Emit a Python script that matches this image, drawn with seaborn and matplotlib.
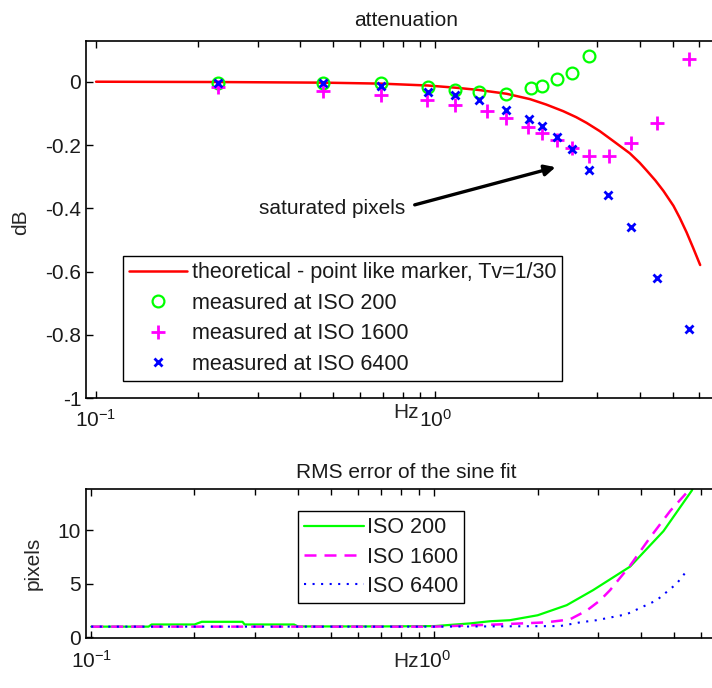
import matplotlib
matplotlib.use("Agg")
import matplotlib.pyplot as plt
import seaborn as sns
from matplotlib.ticker import FormatStrFormatter, LogLocator, NullFormatter

# theoretical attenuation, point like marker, Tv=1/30
theory_hz = [0.1, 0.23, 0.47, 0.69, 0.95, 1.15, 1.34, 1.62, 1.90, 2.12, 2.38, 2.60,
             2.79, 3.05, 3.35, 3.74, 4.00, 4.19, 4.45, 4.70, 5.03, 5.25, 5.50, 5.75,
             6.03]
theory_db = [0.0, -0.001, -0.003, -0.006, -0.012, -0.019, -0.026, -0.038, -0.055,
             -0.072, -0.093, -0.112, -0.130, -0.156, -0.188, -0.226, -0.256, -0.280,
             -0.312, -0.345, -0.392, -0.430, -0.476, -0.525, -0.579]

# measured attenuation
iso200_hz = [0.228, 0.466, 0.693, 0.949, 1.146, 1.342, 1.62, 1.91, 2.06, 2.28, 2.53, 2.84]
iso200_db = [-0.003, -0.003, -0.005, -0.016, -0.026, -0.033, -0.039, -0.021, -0.013,
             0.008, 0.029, 0.081]
iso1600_hz = [0.228, 0.466, 0.693, 0.947, 1.146, 1.42, 1.62, 1.88, 2.06, 2.28, 2.53,
              2.84, 3.24, 3.76, 4.51, 5.60]
iso1600_db = [-0.016, -0.028, -0.041, -0.058, -0.074, -0.092, -0.114, -0.142, -0.161,
              -0.184, -0.210, -0.234, -0.234, -0.195, -0.131, 0.072]
iso6400_hz = [0.228, 0.466, 0.693, 0.949, 1.146, 1.342, 1.62, 1.89, 2.06, 2.28, 2.52,
              2.83, 3.23, 3.76, 4.50, 5.59]
iso6400_db = [-0.005, -0.005, -0.012, -0.032, -0.042, -0.058, -0.089, -0.118, -0.139,
              -0.174, -0.213, -0.279, -0.358, -0.460, -0.621, -0.781]

# RMS error of the sine fit
rms200_hz = [0.1, 0.147, 0.15, 0.2, 0.21, 0.276, 0.28, 0.39, 0.40, 0.7, 1.0, 1.27,
             1.45, 1.66, 2.0, 2.43, 2.9, 3.72, 4.65, 5.63, 5.7]
rms200 = [1.0, 1.0, 1.2, 1.2, 1.45, 1.45, 1.2, 1.2, 1.02, 1.02, 1.05, 1.3, 1.5, 1.6,
          2.06, 3.0, 4.4, 6.6, 9.9, 13.7, 14.2]
rms1600_hz = [0.1, 1.0, 1.52, 2.12, 2.48, 2.78, 3.04, 3.25, 3.72, 4.25, 4.87, 5.44, 5.6]
rms1600 = [1.0, 1.0, 1.2, 1.4, 1.67, 2.5, 3.45, 4.4, 6.7, 9.3, 11.8, 13.5, 14.2]
rms6400_hz = [0.1, 1.0, 2.32, 2.66, 2.97, 3.63, 4.44, 5.08, 5.5]
rms6400 = [1.0, 1.0, 1.05, 1.4, 1.6, 2.15, 3.45, 5.0, 6.4]

sns.set_style("ticks", {"xtick.direction": "in", "ytick.direction": "in"})
plt.rcParams["font.family"] = ["Liberation Sans", "DejaVu Sans"]
plt.rcParams["mathtext.fontset"] = "custom"
plt.rcParams["mathtext.rm"] = "Liberation Sans"
plt.rcParams["mathtext.it"] = "Liberation Sans:italic"
plt.rcParams["axes.unicode_minus"] = False
plt.rcParams["font.size"] = 15
plt.rcParams["text.color"] = "#1a1a1a"

fig = plt.figure(figsize=(7.12, 6.88), dpi=100)
ax1 = fig.add_axes([0.1208, 0.4211, 0.899, 0.5193])
ax2 = fig.add_axes([0.1208, 0.0722, 0.899, 0.2166])

# top: attenuation
sns.lineplot(x=theory_hz, y=theory_db, ax=ax1, color="red", lw=1.8,
             label="theoretical - point like marker, Tv=1/30")
sns.lineplot(x=iso200_hz, y=iso200_db, ax=ax1, color="#00ff00", linestyle="",
             marker="o", mfc="none", mec="#00ff00", mew=1.6, ms=8.5,
             label="measured at ISO 200")
sns.lineplot(x=iso1600_hz, y=iso1600_db, ax=ax1, color="magenta", linestyle="",
             marker="+", mec="magenta", mew=2.0, ms=10,
             label="measured at ISO 1600")
sns.lineplot(x=iso6400_hz, y=iso6400_db, ax=ax1, color="blue", linestyle="",
             marker="x", mec="blue", mew=2.0, ms=5.5,
             label="measured at ISO 6400")

ax1.set_xscale("log")
ax1.set_xlim(0.0934, 7.19)
ax1.set_ylim(-1, 0.1286)
ax1.set_yticks([-1, -0.8, -0.6, -0.4, -0.2, 0])
ax1.yaxis.set_major_formatter(FormatStrFormatter("%g"))
ax1.set_title("attenuation", fontsize=15, pad=11)
ax1.set_xlabel("Hz", fontsize=15)
ax1.set_ylabel("dB", fontsize=15)
ax1.xaxis.set_label_coords(0.5, -0.012)
ax1.yaxis.set_label_coords(-0.0875, 0.494)

ax1.text(0.813, -0.399, "saturated pixels", ha="right", va="center", fontsize=15)
ax1.annotate("", xy=(2.26, -0.270), xytext=(0.869, -0.389),
             arrowprops=dict(arrowstyle="-|>", color="black", lw=2.4,
                             mutation_scale=16, shrinkA=0, shrinkB=0))

leg1 = ax1.legend(loc="lower left", bbox_to_anchor=(0.0583, 0.0493),
                  borderaxespad=0, fontsize=15.5, handlelength=2.7,
                  handletextpad=0.2, labelspacing=0.44, borderpad=0.28,
                  fancybox=False, framealpha=1, edgecolor="black", numpoints=1)
leg1.get_frame().set_linewidth(1.0)

# bottom: RMS error
sns.lineplot(x=rms200_hz, y=rms200, ax=ax2, color="#00ff00", lw=1.6, label="ISO 200")
sns.lineplot(x=rms1600_hz, y=rms1600, ax=ax2, color="magenta", lw=1.8,
             dashes=(4.8, 3.2), label="ISO 1600")
sns.lineplot(x=rms6400_hz, y=rms6400, ax=ax2, color="blue", lw=1.5,
             dashes=(1, 3.1), label="ISO 6400")

ax2.set_xscale("log")
ax2.set_xlim(0.0966, 7.08)
ax2.set_ylim(-0.09, 13.8)
ax2.set_yticks([0, 5, 10])
ax2.set_title("RMS error of the sine fit", fontsize=15, pad=8)
ax2.set_xlabel("Hz", fontsize=15)
ax2.set_ylabel("pixels", fontsize=15)
ax2.xaxis.set_label_coords(0.5, -0.092)
ax2.yaxis.set_label_coords(-0.067, 0.505)

leg2 = ax2.legend(loc="lower left", bbox_to_anchor=(0.331, 0.235),
                  borderaxespad=0, fontsize=15.5, handlelength=2.75,
                  handletextpad=0.15, labelspacing=0.38, borderpad=0.3,
                  fancybox=False, framealpha=1, edgecolor="black")
leg2.get_frame().set_linewidth(1.0)

for ax in (ax1, ax2):
    ax.xaxis.set_major_locator(LogLocator(base=10, numticks=10))
    ax.xaxis.set_minor_locator(LogLocator(base=10, subs=range(2, 10), numticks=20))
    ax.xaxis.set_minor_formatter(NullFormatter())
    ax.tick_params(which="both", direction="in", top=True, right=True,
                   labelsize=15, color="black", width=1.0, labelcolor="#1a1a1a")
    ax.tick_params(which="major", length=5)
    ax.tick_params(which="minor", length=4)
    ax.tick_params(axis="x", which="major", pad=8)
    for s in ax.spines.values():
        s.set_linewidth(1.2)
        s.set_color("black")

fig.savefig("out.png", dpi=100)
